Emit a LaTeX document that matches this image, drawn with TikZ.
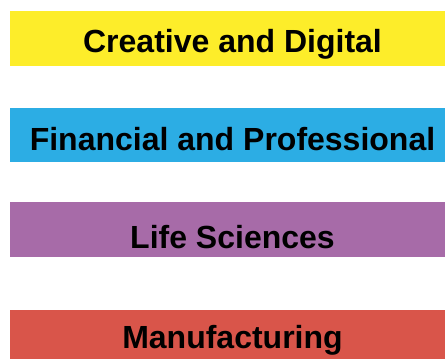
\documentclass[tikz,border=0pt]{standalone}
\usepackage{fontspec}
\setmainfont{Liberation Sans}
\definecolor{cyel}{RGB}{253,237,42}
\definecolor{cblue}{RGB}{44,173,228}
\definecolor{cpurp}{RGB}{167,107,168}
\definecolor{cred}{RGB}{217,85,74}
\tikzset{
  bar/.style={inner sep=0pt, minimum width=445bp, minimum height=54.5bp, anchor=north west},
  lbl/.style={font=\fontsize{32bp}{38bp}\selectfont\bfseries, text=black, inner sep=0pt, anchor=base}
}
\begin{document}
\begin{tikzpicture}[x=1bp,y=-1bp]
\useasboundingbox (0,0) rectangle (445,358);
\clip (0,0) rectangle (445,358);
\node[bar, fill=cyel] (b1) at (10,11) {};
\node[bar, fill=cblue] (b2) at (10,107.3) {};
\node[bar, fill=cpurp] (b3) at (10,202.2) {};
\node[bar, fill=cred] (b4) at (10,310) {};
\node[lbl] (t1) at (232.5,52) {Creative and Digital};
\node[lbl] (t2) at (232.5,150) {Financial and Professional};
\node[lbl] (t3) at (232.5,248.3) {Life Sciences};
\node[lbl] (t4) at (232.5,348.3) {Manufacturing};
\end{tikzpicture}
\end{document}
